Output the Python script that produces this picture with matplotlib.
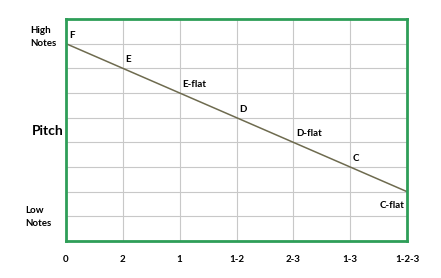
import matplotlib.pyplot as plt

# Dados do gráfico
fingerings = ['0', '2', '1', '1-2', '2-3', '1-3', '1-2-3']
notes = ['F', 'E', 'E-flat', 'D', 'D-flat', 'C', 'C-flat']
pitch = [8, 7, 6, 5, 4, 3, 2]

plt.rcParams['font.family'] = ['Lato', 'DejaVu Sans']

fig = plt.figure(figsize=(4.41, 2.78), dpi=100)
ax = fig.add_axes([66 / 441, 1 - 241 / 278, 341 / 441, 222 / 278])

x = list(range(len(fingerings)))
ax.plot(x, pitch, color='#6e6b4f', linewidth=1.1)

# Rótulos das notas
for i, (n, p) in enumerate(zip(notes, pitch)):
    if i == len(notes) - 1:
        ax.annotate(n, (i, p), xytext=(-2, -7), textcoords='offset points',
                    ha='right', va='top', fontsize=7, fontweight='bold')
    else:
        ax.annotate(n, (i, p), xytext=(2, 3), textcoords='offset points',
                    ha='left', va='bottom', fontsize=7, fontweight='bold')

ax.set_xlim(0, 6)
ax.set_ylim(0, 9)
ax.set_xticks(x)
ax.set_xticklabels(fingerings, fontsize=7, fontweight='bold')
ax.set_yticks(range(10))
ax.set_yticklabels([])
ax.tick_params(length=0, pad=10)
ax.grid(True, color='#c8c8c8', linewidth=0.8)
ax.set_axisbelow(True)
for s in ax.spines.values():
    s.set_color('#2e9e58')
    s.set_linewidth(2)

fig.text(30 / 441, 1 - 37 / 278, 'High\nNotes', fontsize=7, fontweight='bold',
         ha='left', va='center', linespacing=1.5)
fig.text(32 / 441, 1 - 131 / 278, 'Pitch', fontsize=10, fontweight='bold',
         ha='left', va='center')
fig.text(25 / 441, 1 - 217 / 278, 'Low\nNotes', fontsize=7, fontweight='bold',
         ha='left', va='center', linespacing=1.5)

fig.savefig('out.png', dpi=100)
